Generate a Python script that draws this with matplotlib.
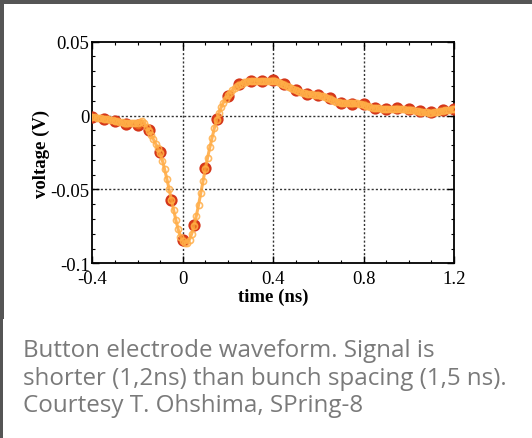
import numpy as np
import matplotlib
matplotlib.use("Agg")
import matplotlib.pyplot as plt
from matplotlib.ticker import MultipleLocator, FixedLocator
from matplotlib.patches import Rectangle

# --- data -------------------------------------------------------------
# coarse measurement (every 0.05 ns)
t_coarse = [-0.40, -0.35, -0.30, -0.25, -0.20, -0.15, -0.10, -0.05, 0.00,
            0.05, 0.10, 0.15, 0.20, 0.25, 0.30, 0.35, 0.40, 0.45, 0.50,
            0.55, 0.60, 0.65, 0.70, 0.75, 0.80, 0.85, 0.90, 0.95, 1.00,
            1.05, 1.10, 1.15, 1.20]
v_coarse = [-0.0011, -0.0023, -0.0036, -0.0054, -0.0063, -0.0101, -0.0248,
            -0.0570, -0.0845, -0.0743, -0.0356, -0.0023, 0.0131, 0.0212,
            0.0234, 0.0234, 0.0239, 0.0216, 0.0173, 0.0149, 0.0140, 0.0117,
            0.0088, 0.0081, 0.0081, 0.0054, 0.0047, 0.0050, 0.0045, 0.0032,
            0.0023, 0.0040, 0.0045]

# fine measurement (every 0.01 ns, -0.40 .. 1.20)
t_fine_start = -0.40
t_fine_step = 0.01
v_fine = [
    -0.0010, -0.0012, -0.0014, -0.0016, -0.0019, -0.0022, -0.0024, -0.0026,
    -0.0029, -0.0032, -0.0035, -0.0038, -0.0042, -0.0046, -0.0050, -0.0052,
    -0.0052, -0.0050, -0.0048, -0.0050, -0.0052, -0.0045, -0.0037, -0.0050,
    -0.0075, -0.0105, -0.0130, -0.0160, -0.0190, -0.0220, -0.0255, -0.0305,
    -0.0365, -0.0430, -0.0500, -0.0570, -0.0640, -0.0710, -0.0770, -0.0820,
    -0.0850, -0.0862, -0.0860, -0.0840, -0.0800, -0.0745, -0.0680, -0.0605,
    -0.0525, -0.0443, -0.0360, -0.0285, -0.0215, -0.0150, -0.0085, -0.0030,
    0.0015, 0.0055, 0.0088, 0.0115, 0.0137, 0.0156, 0.0172, 0.0186, 0.0198,
    0.0208, 0.0217, 0.0224, 0.0229, 0.0232, 0.0234, 0.0236, 0.0237, 0.0236,
    0.0235, 0.0234, 0.0233, 0.0233, 0.0234, 0.0236, 0.0236, 0.0233, 0.0228,
    0.0222, 0.0215, 0.0208, 0.0200, 0.0192, 0.0184, 0.0177, 0.0171, 0.0166,
    0.0160, 0.0155, 0.0151, 0.0148, 0.0146, 0.0144, 0.0142, 0.0140, 0.0138,
    0.0135, 0.0131, 0.0126, 0.0120, 0.0114, 0.0107, 0.0100, 0.0094, 0.0089,
    0.0086, 0.0084, 0.0083, 0.0083, 0.0083, 0.0083, 0.0083, 0.0082, 0.0080,
    0.0077, 0.0073, 0.0068, 0.0063, 0.0058, 0.0054, 0.0051, 0.0049, 0.0048,
    0.0047, 0.0047, 0.0047, 0.0047, 0.0047, 0.0047, 0.0046, 0.0045, 0.0044,
    0.0043, 0.0042, 0.0041, 0.0040, 0.0038, 0.0035, 0.0032, 0.0029, 0.0026,
    0.0024, 0.0022, 0.0021, 0.0020, 0.0020, 0.0021, 0.0023, 0.0026, 0.0030,
    0.0034, 0.0037, 0.0039, 0.0041, 0.0043, 0.0045]
t_fine = t_fine_start + t_fine_step * np.arange(len(v_fine))

x_ticks = [-0.4, 0, 0.4, 0.8, 1.2]
x_tick_labels = ["-0.4", "0", "0.4", "0.8", "1.2"]
y_ticks = [-0.1, -0.05, 0, 0.05]
y_tick_labels = ["-0.1", "-0.05", "0", "0.05"]

caption = ("Button electrode waveform. Signal is\n"
           "shorter (1,2ns) than bunch spacing (1,5 ns).\n"
           "Courtesy T. Ohshima, SPring-8")

# --- figure -----------------------------------------------------------
W, H = 532, 439
fig = plt.figure(figsize=(W / 100, H / 100), dpi=100)
fig.patch.set_facecolor("white")

# dark frame (top band and left band)
fig.add_artist(Rectangle((0, 1 - 5 / H), 1, 5 / H, transform=fig.transFigure,
                         facecolor="#555555", edgecolor="none", zorder=0))
fig.add_artist(Rectangle((0, 1 - 320 / H), 4 / W, 320 / H, transform=fig.transFigure,
                         facecolor="#555555", edgecolor="none", zorder=0))
fig.add_artist(Rectangle((0, 0), 3 / W, 1 - 320 / H, transform=fig.transFigure,
                         facecolor="#555555", edgecolor="none", zorder=0))

ax = fig.add_axes([92.3 / W, 1 - 264.3 / H, (454 - 92.3) / W, (264.3 - 42.7) / H])

serif = ["Liberation Serif", "DejaVu Serif"]

ax.set_xlim(-0.4, 1.2)
ax.set_ylim(-0.1, 0.05)

# grid lines at interior major ticks
for xv in [0, 0.4, 0.8]:
    ax.axvline(xv, color="#333333", lw=1.0, ls=(0, (1.5, 1.5)), zorder=1)
for yv in [-0.05, 0]:
    ax.axhline(yv, color="#333333", lw=1.0, ls=(0, (1.5, 1.5)), zorder=1)

# coarse series (red ringed circles)
ax.plot(t_coarse, v_coarse, ls="none", marker="o", ms=7.2,
        mfc="#e8641c", mec="#d4361a", mew=1.6, zorder=3)
ax.plot(t_coarse, v_coarse, ls="none", marker="o", ms=2.0,
        mfc="#c8300f", mec="none", zorder=3.1)

# fine series (light orange line with small open circles)
ax.plot(t_fine, v_fine, color="#ffa63a", lw=2.2, alpha=0.85,
        marker="o", ms=4.4, mfc="none", mec="#ffae48", mew=1.2, zorder=4)

ax.xaxis.set_major_locator(FixedLocator(x_ticks))
ax.yaxis.set_major_locator(FixedLocator(y_ticks))
ax.set_xticklabels(x_tick_labels, fontfamily=serif, fontsize=13.5)
ax.set_yticklabels(y_tick_labels, fontfamily=serif, fontsize=13.5)
ax.xaxis.set_minor_locator(MultipleLocator(0.1))
ax.yaxis.set_minor_locator(MultipleLocator(0.01))
ax.tick_params(which="major", direction="in", length=5, width=1.0,
               top=True, right=True, colors="black")
ax.tick_params(axis="x", which="major", pad=5)
ax.tick_params(axis="y", which="major", pad=2)
ax.tick_params(which="minor", direction="in", length=2.5, width=0.8,
               top=True, right=True)
for s in ax.spines.values():
    s.set_linewidth(1.3)
    s.set_color("black")

ax.set_xlabel("time (ns)", fontfamily=serif, fontsize=13.5,
              fontweight="bold", labelpad=0)
ax.set_ylabel("voltage (V)", fontfamily=serif, fontsize=13.5,
              fontweight="bold", labelpad=0)

fig.text(23 / W, 1 - 339 / H, caption, ha="left", va="top",
         fontfamily=["Open Sans", "DejaVu Sans"], fontsize=17.4,
         color="#7a7a7a", linespacing=1.2)

fig.savefig("out.png", dpi=100, facecolor="white")
